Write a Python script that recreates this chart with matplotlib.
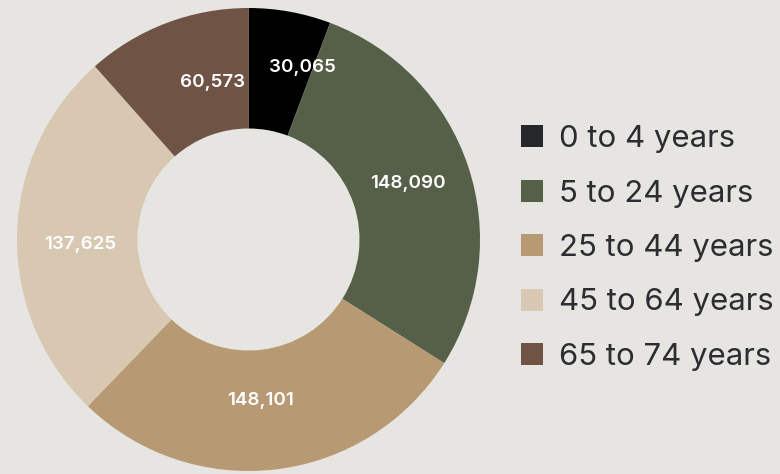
import numpy as np
import matplotlib
matplotlib.use("Agg")
import matplotlib.pyplot as plt
from matplotlib.patches import Rectangle

categories = ["0 to 4 years", "5 to 24 years", "25 to 44 years", "45 to 64 years", "65 to 74 years"]
values = [30065, 148090, 148101, 137625, 60573]
slice_colors = ["#000000", "#566049", "#b79a74", "#d8c7b1", "#6f5446"]
legend_colors = ["#25272b", "#566049", "#b79a74", "#d8c7b1", "#6f5446"]

BG = "#e6e5e1"
W, H = 780, 474
fig = plt.figure(figsize=(W / 100, H / 100), dpi=100, facecolor=BG)

cx, cy, R = 248.5, 239.5, 231.5
ax = fig.add_axes([(cx - R) / W, (H - cy - R) / H, 2 * R / W, 2 * R / H])
ax.set_facecolor(BG)
ax.axis("off")

wedges, _ = ax.pie(values, colors=slice_colors, startangle=90, counterclock=False,
                   radius=1.0, wedgeprops=dict(width=1 - 111 / 231.5, linewidth=0))
ax.set_xlim(-1, 1)
ax.set_ylim(-1, 1)
ax.set_aspect("equal")

# label placement tweaks (angle nudge in degrees, clockwise; radius in axes units)
label_nudge = [-6.7, 1.9, -2.6, 2.0, -8.0]
label_radius = [0.79, 0.735, 0.685, 0.727, 0.71]

fam = ["Inter", "DejaVu Sans"]
for w, v, dn, r in zip(wedges, values, label_nudge, label_radius):
    ang = np.deg2rad((w.theta1 + w.theta2) / 2 + dn)
    ax.annotate(f"{v:,}", xy=(r * np.cos(ang), r * np.sin(ang)), xytext=(0, -2.2),
                textcoords="offset points", ha="center", va="center",
                color="white", fontsize=13.5, fontweight="semibold", family=fam)

# legend
for i, (lab, col) in enumerate(zip(categories, legend_colors)):
    yc = 136 + i * 54.5
    fig.patches.append(Rectangle((521 / W, (H - yc - 11) / H), 22 / W, 22 / H,
                                 transform=fig.transFigure, facecolor=col, edgecolor="none"))
    fig.text(559 / W, (H - yc) / H, lab, ha="left", va="center_baseline",
             fontsize=22.4, color="#2b2d31", family=fam)

fig.savefig("out.png", dpi=100, facecolor=BG)
